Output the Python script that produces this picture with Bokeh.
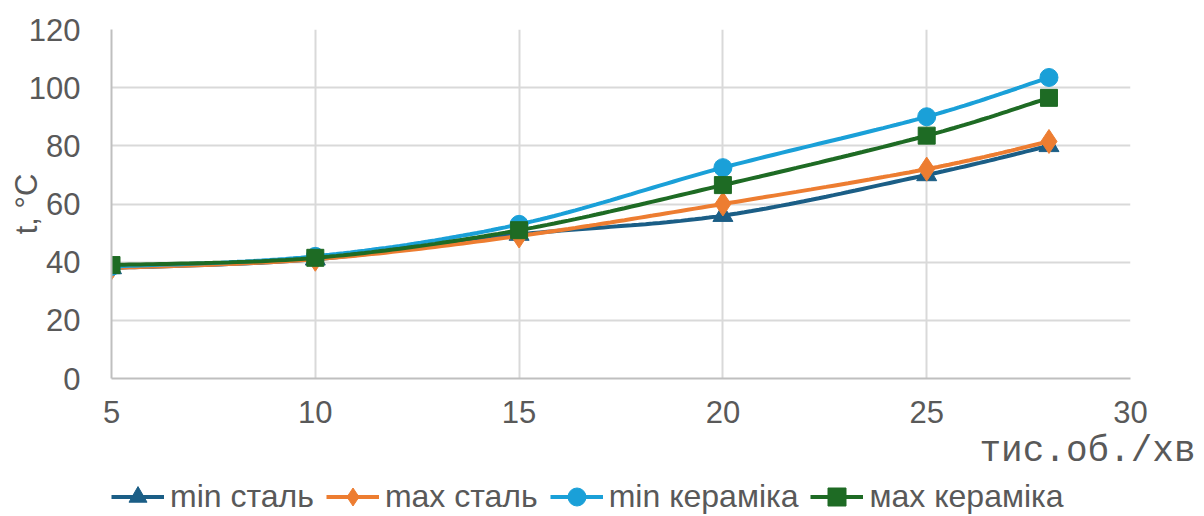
import numpy as np
from bokeh.plotting import figure
from bokeh.layouts import column
from bokeh.models import Legend, LegendItem, Title, Range1d, FixedTicker
from bokeh.embed import file_html
from bokeh.resources import INLINE

# ---- data ----
rpm = [5, 10, 15, 20, 25, 28]
min_steel = [38, 41, 49.5, 56, 70, 80]
max_steel = [38, 41, 49, 60, 72, 81.5]
min_ceramic = [38.5, 42, 53, 72.5, 90, 103.5]
max_ceramic = [39, 41.5, 51, 66.5, 83.5, 96.5]
names = ["min сталь", "max сталь", "min кераміка", "мах кераміка"]
colors = ["#1b5e86", "#ed7d31", "#1aa0d8", "#1e6b24"]
markers = ["triangle", "diamond", "circle", "square"]
msizes = [20, 24, 18, 17]
x_ticks = [5, 10, 15, 20, 25, 30]
y_ticks = [0, 20, 40, 60, 80, 100, 120]
x_title = "тис.об./хв"
y_title = "t, °C"

FONT = "Liberation Sans"
TXT = "#595959"
W = 1200


def smooth(xs, ys, n=30):
    # Excel-like smoothed line (Catmull-Rom Bezier)
    xs = np.asarray(xs, float)
    ys = np.asarray(ys, float)
    ox, oy = [], []
    m = len(xs)
    for i in range(m - 1):
        p0 = (xs[max(i - 1, 0)], ys[max(i - 1, 0)])
        p1 = (xs[i], ys[i])
        p2 = (xs[i + 1], ys[i + 1])
        p3 = (xs[min(i + 2, m - 1)], ys[min(i + 2, m - 1)])
        c1 = (p1[0] + (p2[0] - p0[0]) / 6, p1[1] + (p2[1] - p0[1]) / 6)
        c2 = (p2[0] - (p3[0] - p1[0]) / 6, p2[1] - (p3[1] - p1[1]) / 6)
        t = np.linspace(0, 1, n)
        a = (1 - t) ** 3
        b = 3 * (1 - t) ** 2 * t
        c = 3 * (1 - t) * t ** 2
        d = t ** 3
        ox.extend(a * p1[0] + b * c1[0] + c * c2[0] + d * p2[0])
        oy.extend(a * p1[1] + b * c1[1] + c * c2[1] + d * p2[1])
    return ox, oy


# ---------- main chart ----------
p = figure(frame_width=1019, frame_height=349, output_backend="svg",
           toolbar_location=None,
           x_range=Range1d(5, 30), y_range=Range1d(0, 120),
           min_border_left=111, min_border_right=W - 111 - 1019,
           min_border_top=29, min_border_bottom=0)
p.outline_line_color = None
p.background_fill_color = "white"

for ax in (p.xaxis[0], p.yaxis[0]):
    ax.major_tick_line_color = None
    ax.minor_tick_line_color = None
    ax.axis_line_color = "#bfbfbf"
    ax.axis_line_width = 2
    ax.major_label_text_font = FONT
    ax.major_label_text_font_size = "31px"
    ax.major_label_text_color = TXT

p.xaxis.ticker = FixedTicker(ticks=x_ticks)
p.yaxis.ticker = FixedTicker(ticks=y_ticks)
p.xaxis.major_label_standoff = 16
p.yaxis.major_label_standoff = 25

p.yaxis.axis_label = y_title
p.yaxis.axis_label_text_font = FONT
p.yaxis.axis_label_text_font_size = "31px"
p.yaxis.axis_label_text_font_style = "normal"
p.yaxis.axis_label_text_color = TXT
p.yaxis.axis_label_standoff = -18

p.xgrid.grid_line_color = "#d9d9d9"
p.ygrid.grid_line_color = "#d9d9d9"
p.xgrid.grid_line_width = 2
p.ygrid.grid_line_width = 2

series = [min_steel, max_steel, min_ceramic, max_ceramic]
for ys, col, mk, ms in zip(series, colors, markers, msizes):
    sx, sy = smooth(rpm, ys)
    p.line(sx, sy, line_color=col, line_width=4)
    p.scatter(rpm, ys, marker=mk, size=ms, fill_color=col, line_color=col)

xtitle = Title(text=x_title, align="right", offset=-65,
               text_font="Liberation Mono", text_font_size="36px",
               text_font_style="normal", text_color=TXT, standoff=6)
p.add_layout(xtitle, "below")

# ---------- legend strip below ----------
p2 = figure(width=W, height=45, output_backend="svg", toolbar_location=None,
            x_range=Range1d(0, 1), y_range=Range1d(0, 1),
            x_axis_type=None, y_axis_type=None,
            min_border_left=0, min_border_right=0, min_border_top=0,
            min_border_bottom=0)
p2.outline_line_color = None
p2.grid.visible = False

items = []
for ys, nm, col, mk in zip(series, names, colors, markers):
    # same series, outside this strip's ranges: only their legend glyphs show
    r1 = p2.line(rpm, ys, line_color=col, line_width=4)
    r2 = p2.scatter(rpm, ys, marker=mk, fill_color=col, line_color=col)
    items.append(LegendItem(label=nm, renderers=[r1, r2]))

legend = Legend(items=items, orientation="horizontal", location=(0, 0),
                label_text_font=FONT, label_text_font_size="32px",
                label_text_color=TXT, glyph_width=53, glyph_height=45,
                label_standoff=6, spacing=12, padding=0, margin=0,
                border_line_color=None, background_fill_alpha=0)
p2.add_layout(legend, "center")

layout = column(p, p2, spacing=0)
open("out.html", "w").write(file_html(layout, INLINE))
